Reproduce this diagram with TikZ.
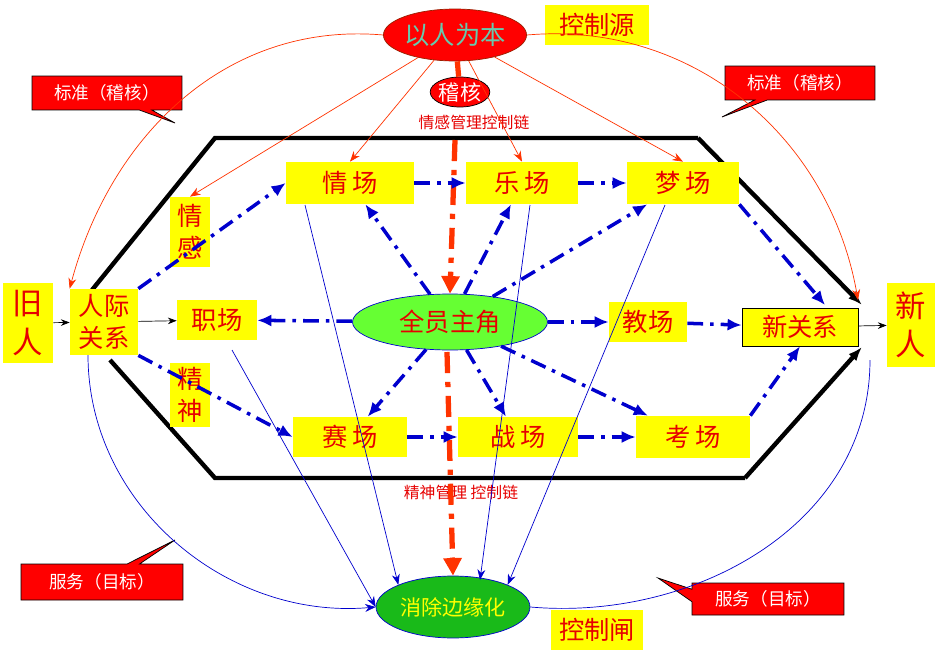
\documentclass[tikz,border=0pt]{standalone}
\usepackage{fontspec}
\setmainfont{Noto Sans CJK SC}
\usetikzlibrary{arrows.meta,shapes.callouts,shapes.geometric}
\definecolor{ybox}{RGB}{255,255,0}
\definecolor{rtxt}{RGB}{230,0,0}
\definecolor{bline}{RGB}{0,0,205}
\definecolor{gfill}{RGB}{102,255,51}
\definecolor{rdash}{RGB}{255,51,0}
\begin{document}
\begin{tikzpicture}
[x=0.02cm,y=-0.02cm,font=\large,
 ybox/.style={fill=ybox,text=rtxt,inner sep=0pt,align=center},
 rcall/.style={fill=red,draw=black,text=white,inner sep=0pt,font=\normalsize},
 blue arrow/.style={bline,line width=2pt,dash pattern=on 9pt off 4pt on 2pt off 4pt,-{Latex[length=8pt,width=7pt]}},
 thin blue/.style={bline,thin,-{Stealth[length=6pt]}},
 thin red/.style={rdash,thin,-{Stealth[length=6pt]}},
 red chain/.style={rdash,line width=3pt,dash pattern=on 12pt off 5pt on 3pt off 5pt,-{Triangle[length=10pt,width=10pt]}}]
\useasboundingbox (0,0) rectangle (938,656);
% hexagon
\draw[line width=2.5pt] (92,290) -- (215,138) -- (698,138);
\draw[line width=2.5pt,-{Latex[length=8pt]}] (698,138) -- (862,305);
\draw[line width=2.5pt] (110,360) -- (215,478) -- (745,478);
\draw[line width=2.5pt,-{Latex[length=8pt]}] (745,478) -- (862,347);
% nodes
\node[ellipse,fill=red,draw=rdash!60!black,inner sep=0pt,minimum width=2.8cm,minimum height=1.04cm,text=cyan!40!green!60,font=\Large] (yrwb) at (455,35) {以人为本};
\node[ybox,minimum width=2.08cm,minimum height=0.8cm,font=\Large] (kzy) at (597,25) {控制源};
\node[ellipse,fill=red,draw=black,minimum width=1.1cm,minimum height=0.6cm,text=white,inner sep=0pt] (jh) at (460,92) {稽核};
\node[text=rtxt,font=\small] (qglabel) at (474,122) {情感管理控制链};
\node[rectangle callout,rcall,minimum width=3cm,minimum height=0.68cm,callout absolute pointer={(175,123)}] (bzl) at (107,93) {标准（稽核）};
\node[rectangle callout,rcall,minimum width=3cm,minimum height=0.68cm,callout absolute pointer={(722,117)}] (bzr) at (800,83) {标准（稽核）};
\node[ybox,minimum width=1cm,minimum height=1.6cm,font=\LARGE] (jr) at (28,323) {旧\\人};
\node[ybox,minimum width=1.36cm,minimum height=1.32cm,font=\Large,inner sep=0pt] (rjgx) at (104,322) {人际\\关系};
\node[ybox,minimum width=1.6cm,minimum height=0.8cm,font=\Large] (zc) at (217,320) {职场};
\node[ybox,minimum width=0.8cm,minimum height=1.4cm,font=\Large] (qg) at (190,232) {情\\感};
\node[ybox,minimum width=0.8cm,minimum height=1.3cm,font=\Large] (js) at (190,395) {精\\神};
\node[ybox,minimum width=2.56cm,minimum height=0.84cm,font=\Large] (qc) at (350,183) {情\,场};
\node[ybox,minimum width=2.24cm,minimum height=0.84cm,font=\Large] (lc) at (522,183) {乐\,场};
\node[ybox,minimum width=2.24cm,minimum height=0.84cm,font=\Large] (mc) at (683,183) {梦\,场};
\node[ellipse,fill=gfill,draw=bline,inner sep=0pt,minimum width=3.9cm,minimum height=1.12cm,text=rtxt,font=\Large] (qyzj) at (450,322) {全员主角};
\node[ybox,minimum width=1.56cm,minimum height=0.8cm,font=\Large] (jc) at (648,322) {教场};
\node[ybox,draw=black,minimum width=2.32cm,minimum height=0.76cm,font=\Large] (xgx) at (800,327) {新关系};
\node[ybox,minimum width=0.96cm,minimum height=1.7cm,font=\LARGE] (xr) at (911,325) {新\\人};
\node[ybox,minimum width=2.28cm,minimum height=0.8cm,font=\Large] (sc) at (350,437) {赛\,场};
\node[ybox,minimum width=2.4cm,minimum height=0.8cm,font=\Large] (zhc) at (518,437) {战\,场};
\node[ybox,minimum width=2.28cm,minimum height=0.84cm,font=\Large] (kc) at (693,437) {考\,场};
\node[text=rtxt,font=\small] (jslabel) at (461,492) {精神管理 控制链};
\node[ellipse,fill=green!70!black!90,draw=bline,inner sep=0pt,minimum width=3.08cm,minimum height=1.24cm,text=ybox,font=\large] (xcbyh) at (453,607) {消除边缘化};
\node[ybox,minimum width=1.84cm,minimum height=0.8cm,font=\Large] (kzz) at (597,630) {控制闸};
\node[rectangle callout,rcall,minimum width=3.24cm,minimum height=0.72cm,callout absolute pointer={(175,540)}] (fwl) at (102,582) {服务（目标）};
\node[rectangle callout,rcall,minimum width=3.04cm,minimum height=0.64cm,callout absolute pointer={(658,578)}] (fwr) at (768,599) {服务（目标）};
% red control chain
\draw[rdash,line width=3pt] (yrwb) -- (jh);
\draw[red chain] (455,140) -- (qyzj.north);
\draw[red chain] (447,352) -- (xcbyh.north);
% red arcs and arrows
\draw[thin red] (yrwb.west) to[out=175,in=75] (rjgx.north west);
\draw[thin red] (yrwb.east) to[out=5,in=100] (858,300);
\foreach \to in {qg.north,qc.north,lc.north,mc.north}
\draw[thin red] (yrwb) -- (\to);
% blue dash-dot flows
\draw[blue arrow] (rjgx.north east) -- (qc.west);
\draw[blue arrow] (qc) -- (lc);
\draw[blue arrow] (lc) -- (mc);
\draw[blue arrow] (mc.south east) -- (825,305);
\draw[blue arrow] (rjgx.south east) -- (sc.west);
\draw[blue arrow] (sc) -- (zhc);
\draw[blue arrow] (zhc) -- (kc);
\draw[blue arrow] (kc.north east) -- (xgx.south);
\draw[blue arrow] (jc) -- (xgx);
\foreach \to in {zc,qc,lc,mc,jc,sc,zhc,kc}
\draw[blue arrow] (qyzj) -- (\to);
% thin black arrows
\draw[-{Stealth[length=5pt]}] (jr) -- (rjgx);
\draw[-{Stealth[length=5pt]}] (rjgx) -- (zc);
\draw[-{Stealth[length=5pt]}] (xgx) -- (xr);
% thin blue lines to the gate
\draw[thin blue] (305,205) -- (xcbyh.north west);
\draw[thin blue] (530,205) -- (480,580);
\draw[thin blue] (665,205) -- (xcbyh.north east);
\draw[thin blue] (232,350) -- (xcbyh.west);
\draw[thin blue] (88,355) to[out=-90,in=185] (xcbyh.west);
\draw[bline,thin] (870,360) to[out=-90,in=-5] (xcbyh.east);
\end{tikzpicture}
\end{document}
